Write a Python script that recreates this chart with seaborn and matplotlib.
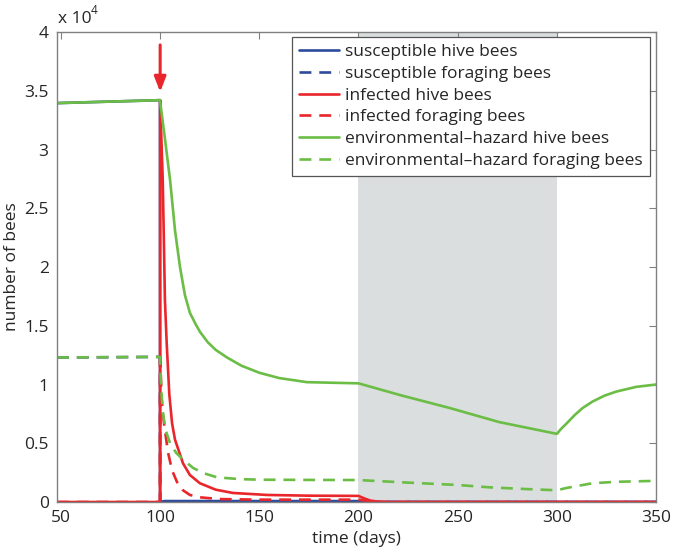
import numpy as np
import pandas as pd
import matplotlib
matplotlib.use("Agg")
import matplotlib.pyplot as plt
import seaborn as sns

# --- data (days, number of bees) ---
sus_hive_t = [48, 99.9, 100, 102, 200, 210, 350]
sus_hive_v = [33950, 34200, 0, 80, 80, 0, 0]

sus_forage_t = [48, 99.9, 100, 350]
sus_forage_v = [12300, 12350, 0, 0]

inf_hive_t = [48, 99.9, 100, 100.5, 101.3, 101.9, 102.4, 103.3, 104.6, 106, 107.5, 111.5,
              115, 120, 128, 136.7, 154, 175, 200, 203, 206, 210, 215, 350]
inf_hive_v = [0, 0, 34200, 31500, 27400, 22000, 17200, 13500, 9200, 6700, 5300, 3300,
              2300, 1600, 1050, 770, 600, 540, 520, 300, 120, 30, 0, 0]

inf_forage_t = [48, 99.9, 100, 100.4, 100.8, 101.5, 102.4, 104, 106, 108.5, 111.5, 115,
                120, 130, 150, 200, 205, 210, 350]
inf_forage_v = [0, 0, 12000, 10500, 8700, 7300, 6100, 4200, 2700, 1700, 1000, 600,
                400, 250, 200, 200, 80, 0, 0]

env_hive_t = [48, 99.9, 102.5, 105, 107.5, 110, 112.5, 115, 118, 120, 124, 128, 133.7,
              141, 150, 160, 174, 200, 221, 246, 271, 300, 302, 305, 309, 313, 318, 324,
              330, 340, 350]
env_hive_v = [33950, 34200, 30800, 27400, 23100, 20000, 17600, 16100, 15100, 14500, 13600,
              12950, 12300, 11600, 11000, 10550, 10200, 10100, 9100, 8000, 6800, 5800,
              6200, 6700, 7400, 8000, 8550, 9050, 9400, 9800, 10000]

env_forage_t = [48, 99.9, 100.3, 100.9, 101.6, 103, 105, 108, 111, 116.6, 122, 128.7, 140,
                150, 175, 200, 225, 250, 266, 285, 300, 305, 318, 330, 350]
env_forage_v = [12300, 12350, 10500, 8700, 7300, 6000, 5000, 4200, 3700, 2900, 2450, 2100,
                1950, 1900, 1880, 1870, 1650, 1450, 1250, 1100, 1000, 1200, 1600, 1720, 1800]

labels = ["susceptible hive bees", "susceptible foraging bees", "infected hive bees",
          "infected foraging bees", "environmental\u2013hazard hive bees",
          "environmental\u2013hazard foraging bees"]

blue = "#2d4b9c"
red = "#e8262b"
green = "#6bbd45"

sns.set_style("white")
plt.rcParams["font.family"] = ["Open Sans", "DejaVu Sans"]

fig = plt.figure(figsize=(6.74, 5.53), dpi=100)
ax = fig.add_axes([0.0846, 0.0922, 0.8887, 0.8499])

# shaded period
ax.axvspan(200, 300, color="#dadedf", zorder=0, lw=0)

series = [
    (sus_hive_t, sus_hive_v, blue, "-"),
    (sus_forage_t, sus_forage_v, blue, "--"),
    (inf_hive_t, inf_hive_v, red, "-"),
    (inf_forage_t, inf_forage_v, red, "--"),
    (env_hive_t, env_hive_v, green, "-"),
    (env_forage_t, env_forage_v, green, "--"),
]
handles = []
for (t, v, c, ls), lab in zip(series, labels):
    df = pd.DataFrame({"t": t, "v": v})
    sns.lineplot(data=df, x="t", y="v", ax=ax, color=c, lw=1.9, estimator=None,
                 sort=False, label=lab, legend=False)
    line = ax.lines[-1]
    line.set_linestyle(ls)
    if ls == "--":
        line.set_dashes((4.5, 3))
    handles.append(line)

# arrow marking day 100
ax.annotate("", xy=(100, 34900), xytext=(100, 38900),
            arrowprops=dict(arrowstyle="-|>,head_length=0.9,head_width=0.35",
                            color=red, lw=2.2, shrinkA=0, shrinkB=0))

ax.set_xlim(48, 350)
ax.set_ylim(0, 40000)
ax.set_xticks(np.arange(50, 351, 50))
yt = np.arange(0, 40001, 5000)
ax.set_yticks(yt)
ax.set_yticklabels([f"{v/1e4:g}" for v in yt])
ax.tick_params(direction="in", length=5, width=0.8, color="#808080", labelsize=12.5,
               labelcolor="#262626", top=True, right=True, pad=6)
for s in ax.spines.values():
    s.set_color("#808080")
    s.set_linewidth(1)

ax.set_xlabel("time (days)", fontsize=12.5, color="#262626", labelpad=3)
ax.set_ylabel("number of bees", fontsize=12.5, color="#262626", labelpad=3)

# exponent label
ax.text(0.002, 1.01, "x 10", transform=ax.transAxes, fontsize=12.5, color="#262626",
        ha="left", va="bottom")
ax.text(0.056, 1.032, "4", transform=ax.transAxes, fontsize=8.5, color="#262626",
        ha="left", va="bottom")

leg = ax.legend(handles=handles, labels=labels, loc="upper right",
                bbox_to_anchor=(0.990, 0.989), borderaxespad=0, fontsize=12.5,
                frameon=True, fancybox=False, framealpha=1, handlelength=2.3,
                handletextpad=0.4, labelspacing=0.32, borderpad=0.4)
leg.get_frame().set_edgecolor("#555555")
leg.get_frame().set_linewidth(0.9)
for txt in leg.get_texts():
    txt.set_color("#262626")

fig.savefig("out.png", dpi=100)
